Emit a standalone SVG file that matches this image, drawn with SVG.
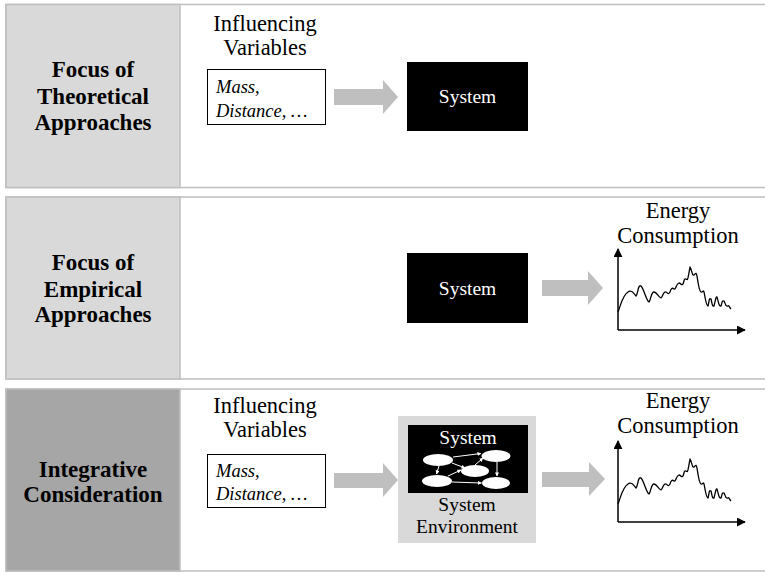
<svg xmlns="http://www.w3.org/2000/svg" width="765" height="572" viewBox="0 0 765 572">
<defs>
<style>
.panel{fill:#fff;stroke:#bfbfbf;stroke-width:1.5}
.col{fill:#d9d9d9;stroke:#bfbfbf;stroke-width:1.5}
.coldark{fill:#a6a6a6;stroke:#bfbfbf;stroke-width:1.5}
text{font-family:'Liberation Serif','DejaVu Serif','Times New Roman',serif}
.head{font-weight:bold;font-size:23px;fill:#000;text-anchor:middle}
.lbl{font-size:22.5px;fill:#000;text-anchor:middle}
.it{font-style:italic;font-size:18.5px;fill:#000}
.sys{font-size:19.5px;text-anchor:middle}
.varbox{fill:#fff;stroke:#000;stroke-width:1}
.garrow{fill:#bfbfbf}
.axis{stroke:#000;stroke-width:1.5;fill:none}
.curve{stroke:#000;stroke-width:1.3;fill:none;stroke-linejoin:round}
.ell{fill:#fff}
.warr{stroke:#fff;stroke-width:1;fill:none}
</style>
<marker id="ah" viewBox="0 0 10 10" refX="9" refY="5" markerWidth="9" markerHeight="9" markerUnits="userSpaceOnUse" orient="auto">
<path d="M0,0 L10,5 L0,10 Z" fill="#000"/>
</marker>
<marker id="wh" viewBox="0 0 10 10" refX="9" refY="5" markerWidth="4" markerHeight="4" markerUnits="userSpaceOnUse" orient="auto">
<path d="M0,0 L10,5 L0,10 Z" fill="#fff"/>
</marker>
<g id="chart">
<line class="axis" x1="618" y1="330" x2="618" y2="249" marker-end="url(#ah)"/>
<line class="axis" x1="618" y1="330" x2="745" y2="330" marker-end="url(#ah)"/>
<path class="curve" d="M618,312 C621,305 622,296 628,292 C632,289 634,294 636,296 C638,294 638,284 641,286 C644,289 646,300 649,302 C651,300 651,292 654,292 C657,292 658,297 661,298 C663,297 663,291 666,292 C668,293 668,295 670,292 C671,289 672,287 674,289 C676,290 676,284 679,283 C681,283 681,286 683,284 C684,282 684,278 686,279 C688,281 688,278 690,267 C692,270 692,276 694,275 C696,273 696,272 697,276 C698,282 699,291 701,292 C703,293 703,289 704,292 C705,296 706,306 708,306 C709,303 709,297 711,299 C712,302 712,307 714,306 C715,302 716,296 717,297 C718,300 719,307 721,306 C722,303 722,300 724,301 C725,303 726,307 728,306 C729,305 729,307 731,309"/>
</g>
</defs>

<!-- Panel 1 -->
<g id="panel1">
<rect class="panel" x="6" y="4.5" width="800" height="183"/>
<rect class="col" x="6" y="4.5" width="174" height="183"/>
<text class="head" x="93" y="77">Focus of</text>
<text class="head" x="93" y="104">Theoretical</text>
<text class="head" x="93" y="130">Approaches</text>
</g>
<g id="vars1">
<text class="lbl" x="265" y="31">Influencing</text>
<text class="lbl" x="265" y="55">Variables</text>
<rect class="varbox" x="207.5" y="69.5" width="118" height="55"/>
<text class="it" x="216" y="93">Mass,</text>
<text class="it" x="216" y="117">Distance, …</text>
</g>
<g id="system1">
<rect x="407" y="62" width="121" height="69" fill="#000"/>
<text class="sys" x="467.5" y="103" fill="#fff">System</text>
</g>

<!-- Panel 2 -->
<g id="panel2">
<rect class="panel" x="6" y="197" width="800" height="182"/>
<rect class="col" x="6" y="197" width="174" height="182"/>
<text class="head" x="93" y="270">Focus of</text>
<text class="head" x="93" y="297">Empirical</text>
<text class="head" x="93" y="322">Approaches</text>
</g>
<g id="system2">
<rect x="407" y="253" width="121" height="70" fill="#000"/>
<text class="sys" x="467.5" y="295" fill="#fff">System</text>
</g>
<g id="energy2">
<text class="lbl" x="678" y="218">Energy</text>
<text class="lbl" x="678" y="243">Consumption</text>
<use href="#chart"/>
</g>

<!-- Panel 3 -->
<g id="panel3">
<rect class="panel" x="6" y="389" width="800" height="182"/>
<rect class="coldark" x="6" y="389" width="174" height="182"/>
<text class="head" x="93" y="477">Integrative</text>
<text class="head" x="93" y="502">Consideration</text>
</g>
<g id="vars3">
<text class="lbl" x="265" y="413">Influencing</text>
<text class="lbl" x="265" y="437">Variables</text>
<rect class="varbox" x="207.5" y="454.5" width="118" height="53"/>
<text class="it" x="216" y="477">Mass,</text>
<text class="it" x="216" y="500">Distance, …</text>
</g>
<g id="system3">
<rect x="398" y="416" width="138" height="127" fill="#d9d9d9"/>
<rect x="408" y="425" width="120" height="68" fill="#000"/>
<text class="sys" x="468" y="444" fill="#fff">System</text>
<ellipse class="ell" cx="438" cy="460" rx="15" ry="6"/>
<ellipse class="ell" cx="496" cy="456" rx="14.5" ry="6"/>
<ellipse class="ell" cx="475" cy="471" rx="14" ry="6"/>
<ellipse class="ell" cx="437" cy="481" rx="15" ry="6"/>
<ellipse class="ell" cx="496" cy="483" rx="14" ry="6"/>
<text class="sys" x="467" y="511" fill="#000">System</text>
<text class="sys" x="467" y="533" fill="#000">Environment</text>
</g>
<g id="energy3">
<text class="lbl" x="678" y="408">Energy</text>
<text class="lbl" x="678" y="433">Consumption</text>
<use href="#chart" transform="translate(0,192)"/>
</g>

<!-- Connectors -->
<g id="connectors">
<path class="garrow" d="M334,89 L383,89 L383,80 L398,97 L383,114 L383,105 L334,105 Z"/>
<path class="garrow" d="M542,280 L588,280 L588,271 L603,288 L588,305 L588,296 L542,296 Z"/>
<path class="garrow" d="M334,473 L383,473 L383,463 L398,480 L383,497 L383,488 L334,488 Z"/>
<path class="garrow" d="M542,472 L589,472 L589,462 L605,479 L589,496 L589,487 L542,487 Z"/>
<line class="warr" x1="453" y1="457" x2="481" y2="453.5" marker-end="url(#wh)"/>
<line class="warr" x1="452" y1="463" x2="465" y2="468" marker-end="url(#wh)"/>
<line class="warr" x1="439" y1="466" x2="436.5" y2="474" marker-end="url(#wh)"/>
<line class="warr" x1="448" y1="476" x2="461" y2="470" marker-end="url(#wh)"/>
<line class="warr" x1="475" y1="465" x2="483" y2="458" marker-end="url(#wh)"/>
<line class="warr" x1="497" y1="462" x2="497" y2="476" marker-end="url(#wh)"/>
<line class="warr" x1="452" y1="482" x2="481.5" y2="483" marker-end="url(#wh)"/>
</g>
</svg>
